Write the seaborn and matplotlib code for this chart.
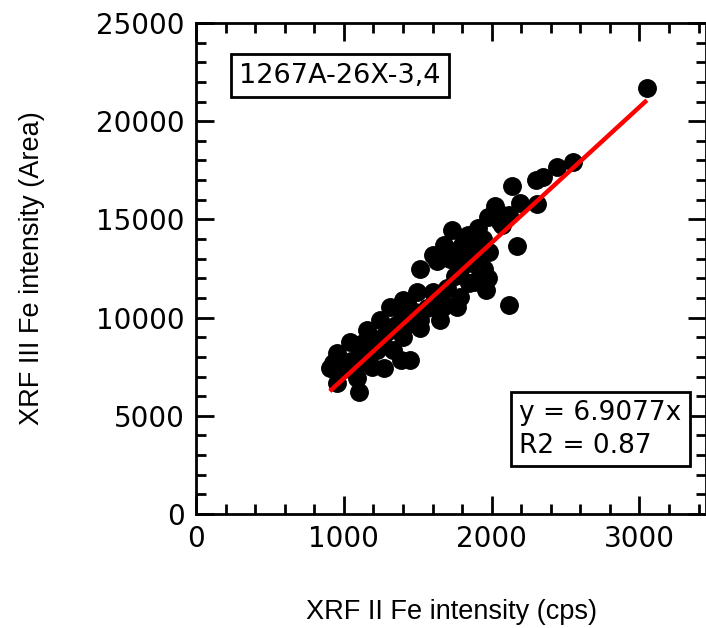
import numpy as np
import pandas as pd
import matplotlib
matplotlib.use("Agg")
import matplotlib.pyplot as plt
import seaborn as sns
from matplotlib.ticker import MultipleLocator

# XRF II (cps) vs XRF III (area) Fe intensities, core 1267A-26X sections 3-4
xrf2_fe = [
    3050, 2550, 2440, 2350, 2300, 2135, 2190, 2305, 2020, 1975,
    2055, 2120, 2070, 1905, 1735, 1830, 1680, 1785, 1920, 1985,
    2170, 2055, 1600, 1515, 1805, 1830, 1785, 1920, 1975, 1850,
    1965, 1785, 1495, 1600, 1670, 1425, 1765, 2120, 1650, 1515,
    1040, 955, 905, 955, 1105, 1160, 1245, 1310, 1380, 1445,
    1515, 1400, 1330, 1445, 1390, 1275, 1190, 1090, 1110, 1225,
    1130, 1265, 1670, 1400, 925, 1200, 1250, 1300, 1180, 1350,
    1050, 1000, 1150, 1420, 1480, 1560, 1620, 1700, 1750, 1870,
    1900, 1950, 1800, 1880, 1720, 1630, 1840, 1940, 1760, 1100,
]
xrf3_fe = [
    21700, 17900, 17650, 17150, 17000, 16700, 15850, 15800, 15700, 15100,
    15300, 15200, 14700, 14550, 14450, 14050, 13700, 13550, 13800, 13350,
    13650, 14850, 13200, 12500, 13800, 13100, 12400, 12400, 12000, 11750,
    11400, 11050, 11300, 11300, 10750, 10800, 10550, 10650, 9900, 9900,
    8750, 8200, 7450, 6650, 6200, 9350, 9900, 10550, 10400, 9900,
    9450, 9000, 8350, 7850, 7850, 7450, 7500, 6950, 7700, 8350,
    8700, 9000, 10550, 10900, 7700, 8900, 8600, 9300, 8200, 9600,
    7800, 7400, 8000, 9600, 10300, 10500, 11000, 11500, 12100, 12800,
    13300, 12500, 13300, 11800, 13000, 12900, 14200, 14000, 12900, 8500,
]

slope = 6.9077
r2 = 0.87
sample_label = "1267A-26X-3,4"

df = pd.DataFrame({"xrf2": xrf2_fe, "xrf3": xrf3_fe})

sns.set_theme(style="white")
plt.rcParams["font.family"] = ["DejaVu Sans"]
plt.rcParams["text.color"] = "black"
plt.rcParams["axes.labelcolor"] = "black"

fig = plt.figure(figsize=(7.06, 6.28), dpi=100)
ax = fig.add_axes([196 / 706, 114 / 628, 510 / 706, 491 / 628])

sns.scatterplot(data=df, x="xrf2", y="xrf3", ax=ax, color="black",
                s=185, linewidth=0, zorder=2, legend=False)

# through-origin linear fit over the range of the data
fit_x = np.array([df["xrf2"].min(), df["xrf2"].max()])
ax.plot(fit_x, slope * fit_x, color="#ff0000", linewidth=3.2,
        solid_capstyle="butt", zorder=3)

ax.set_xlim(0, 3450)
ax.set_ylim(0, 25000)
ax.xaxis.set_major_locator(MultipleLocator(1000))
ax.xaxis.set_minor_locator(MultipleLocator(200))
ax.yaxis.set_major_locator(MultipleLocator(5000))
ax.yaxis.set_minor_locator(MultipleLocator(1000))

ax.tick_params(which="both", direction="in", top=True, right=True,
               bottom=True, left=True, width=2, colors="black")
ax.tick_params(which="major", length=13, labelsize=20, pad=8)
ax.tick_params(which="minor", length=7)
for sp in ax.spines.values():
    sp.set_color("black")
    sp.set_linewidth(2)

ax.set_xlabel("XRF II Fe intensity (cps)", fontsize=19.5,
              family="Liberation Sans", labelpad=33)
ax.set_ylabel("XRF III Fe intensity (Area)", fontsize=19.5,
              family="Liberation Sans", labelpad=37)

ax.text(0.085, 0.893, sample_label, transform=ax.transAxes, fontsize=19.5,
        va="center", ha="left",
        bbox=dict(boxstyle="square,pad=0.3", facecolor="white",
                  edgecolor="black", linewidth=2))
ax.text(0.634, 0.173, f"y = {slope}x\nR2 = {r2}", transform=ax.transAxes,
        fontsize=19, va="center", ha="left", linespacing=1.35,
        bbox=dict(boxstyle="square,pad=0.3", facecolor="white",
                  edgecolor="black", linewidth=2))

fig.savefig("out.png", dpi=100)
